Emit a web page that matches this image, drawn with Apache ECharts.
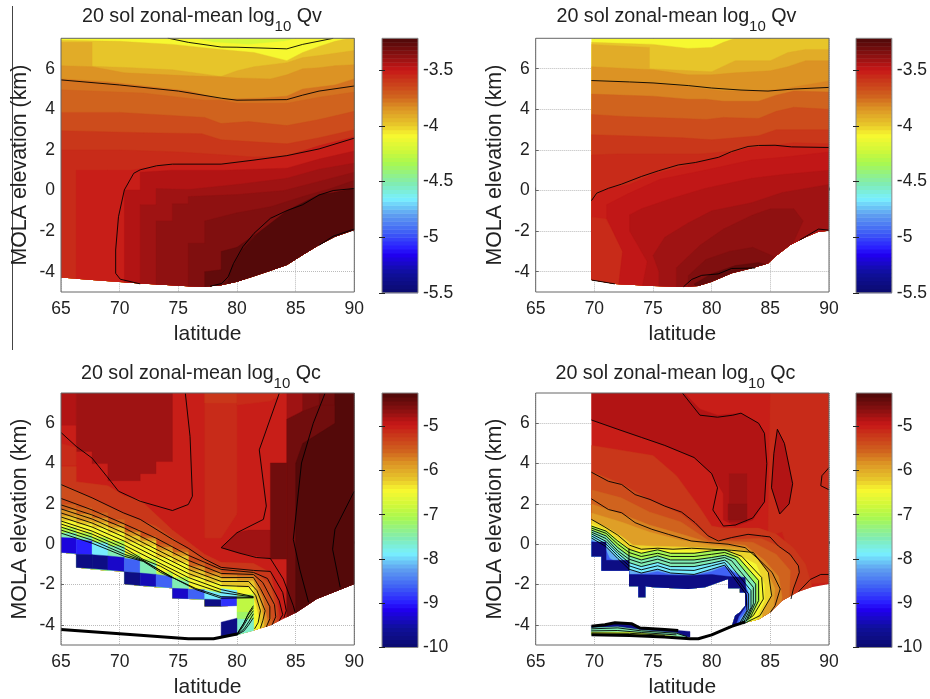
<!DOCTYPE html>
<html><head><meta charset="utf-8">
<script src="https://cdn.jsdelivr.net/npm/echarts@6/dist/echarts.min.js"></script>
<style>html,body{margin:0;padding:0;background:#fff}#c{width:930px;height:699px}</style>
</head><body><div id="c"></div>
<script>
const latTicks=[65,70,75,80,85,90];
const elevTicks=[-4,-2,0,2,4,6];
const qvTicks=[-3.5,-4,-4.5,-5,-5.5];
const qcTicks=[-5,-6,-7,-8,-9,-10];
const qvRange=[-5.5,-3.21];
const qcRange=[-10,-4.25];
const colorStops=[[0,'#0b0b6e'],[.08,'#10109c'],[.15,'#2000f0'],[.18,'#2a20ff'],[.24,'#3f60f5'],[.31,'#60a0f0'],[.37,'#78f0ff'],[.43,'#80ecb4'],[.51,'#a8f850'],[.56,'#d0f83a'],[.62,'#f8f830'],[.66,'#e8c82a'],[.7,'#e0a828'],[.73,'#dc9024'],[.77,'#d0661e'],[.81,'#cc481c'],[.84,'#c8341a'],[.875,'#c81818'],[.9,'#b01414'],[.92,'#981212'],[.95,'#7c0f0f'],[1,'#4c0808']];

// ---------- top-left: Qv ----------
const tlField=[[65,7.5],[90,7.5],[90,-1.94],[88.35,-2.28],[87,-2.69],[85.6,-3.18],[84.25,-3.67],[82.85,-3.95],[81.45,-4.22],[80,-4.5],[78.65,-4.67],[77.25,-4.74],[75.85,-4.72],[71.75,-4.58],[67.65,-4.41],[65,-4.28]];
const tlBands=[
[-4.2,[[65,7.7],[90,7.7]]],
[-4.08,[[65,7.6],[76,7.55],[78,7.3],[81,7.2],[84,7.35],[86,7.6],[90,7.6]]],
[-3.98,[[65,7.4],[70,7.35],[74.5,7.2],[78.65,6.95],[81.45,6.8],[84.25,6.4],[85.6,6.8],[87,7.1],[88.35,7.35],[90,7.55]]],
[-3.92,[[65,7.3],[67.65,7.3],[67.65,6.12],[71,6.05],[74.5,5.95],[78.65,5.62],[80,5.9],[81.45,6.1],[84.25,6.3],[85.6,6.55],[87,6.65],[90,6.9]]],
[-3.85,[[65,6.15],[67.65,6.1],[70.4,5.8],[75.85,5.65],[78.65,5.6],[80,5.55],[82.85,5.5],[84.25,5.7],[85.6,6.0],[87,6.05],[88.35,6.15],[90,6.2]]],
[-3.78,[[65,5.5],[69,5.35],[75.85,4.9],[78.65,4.5],[82,4.55],[84.25,4.65],[85.6,5.0],[88.35,5.2],[90,5.5]]],
[-3.72,[[65,4.96],[72,4.8],[77.25,4.45],[78.65,4.45],[80,4.3],[84.25,4.3],[87,4.6],[90,4.85]]],
[-3.66,[[65,3.85],[70,3.85],[77.25,3.6],[78.65,3.3],[81,3.4],[84.25,3.2],[87,3.5],[90,3.9]]],
[-3.6,[[65,2.95],[72,2.85],[77,2.8],[78.65,2.5],[84.25,2.3],[87,2.6],[90,3.0]]],
[-3.54,[[65,2.0],[70,2.0],[75,1.9],[79,1.75],[81.4,1.65],[84.25,1.7],[87,2.2],[90,2.6]]],
[-3.5,[[66.3,-5],[66.3,1.0],[69,1.0],[71,1.0],[72,1.1],[75,1.3],[79,1.3],[81.45,1.5],[84.25,1.7],[87,2.2],[90,2.65]]],
[-3.46,[[70.4,-5],[70.4,0.03],[71.75,0.03],[71.75,.9],[74.5,1.0],[79,1.0],[81.45,1.05],[84.25,1.1],[87,1.55],[90,1.95]]],
[-3.42,[[71.75,-5],[71.75,-.7],[73.1,-.7],[73.1,.1],[75.85,.05],[80,.3],[84.25,.6],[87,1.05],[90,1.35]]],
[-3.38,[[73.1,-5],[73.1,-1.5],[74.5,-1.5],[74.5,-.65],[75.85,-.65],[75.85,-.3],[80,-.2],[84,0],[87,.45],[90,.9]]],
[-3.33,[[75.85,-5],[75.85,-2.6],[77.25,-2.6],[77.25,-1.5],[80,-1.1],[82.85,-.8],[85.6,-.3],[88,.1],[90,.5]]],
[-3.28,[[77.25,-5],[77.25,-4.0],[78.65,-3.9],[78.65,-3.0],[80,-2.8],[81.45,-2.2],[84.25,-1.3],[87,-.4],[88.35,-.1],[90,.1]]],
[-3.24,[[79,-5],[79.5,-3.9],[80.5,-2.9],[82,-2.0],[84.25,-1.0],[87,-.2],[88.35,-.1],[90,.1]]]
];
const tlContours=[
[[74.1,7.51],[75.85,7.3],[78.65,7.07],[80,7.06],[84.25,6.98],[85.6,7.2],[88.2,7.5]],
[[65,5.45],[70,5.2],[75,4.9],[78.65,4.55],[80,4.45],[84.25,4.48],[85.6,4.7],[87,4.9],[90,5.15]],
[[90,2.58],[87,2.05],[84.25,1.72],[81.45,1.5],[78.65,1.3],[74.5,1.3],[73.15,1.22],[71.75,1.02],[71.2,.85],[70.4,.03],[69.9,-1.29],[69.66,-2.93],[69.66,-4.08],[70.05,-4.37],[71.75,-4.6]],
[[90,.1],[88.2,0],[87,-.22],[85.6,-.7],[84.25,-.99],[82.85,-1.37],[81.45,-2.11],[80.5,-2.77],[79.7,-3.6],[79.25,-4.25],[78.7,-4.58],[77.7,-4.72]],
[[90,-1.9],[88.2,-2.25],[87,-2.7]]
];

// ---------- top-right: Qv ----------
const trField=[[69.75,7.5],[90,7.5],[90,-1.98],[89.1,-2.03],[88,-2.3],[86.7,-2.68],[85.4,-3.26],[84.8,-3.59],[83.4,-3.83],[81.7,-4.08],[80,-4.5],[78.86,-4.7],[77.44,-4.74],[75.03,-4.7],[71.76,-4.6],[69.75,-4.41]];
const trBands=[
[-4.08,[[65,7.7],[90,7.7]]],
[-3.98,[[69.75,7.3],[75,7.2],[78,7.0],[80,7.05],[81,7.3],[82,7.5],[85,7.55],[88,7.6],[90,7.6]]],
[-3.92,[[69.75,7.2],[74.7,7.05],[74.7,6.0],[80,5.85],[82,6.4],[85,6.4],[86.5,6.8],[88,6.95],[90,6.95]]],
[-3.85,[[69.75,6.1],[75,5.95],[78,5.7],[80,5.7],[82,5.8],[85,5.9],[86.5,6.1],[88,6.4],[90,6.4]]],
[-3.79,[[69.75,5.4],[75,5.3],[78,5.1],[81,4.9],[84,4.9],[86,5.0],[88,5.2],[90,5.4]]],
[-3.72,[[69.75,4.75],[75,4.65],[78,4.5],[79.5,4.5],[81,4.4],[84,4.4],[85.5,4.7],[87,4.9],[90,4.85]]],
[-3.66,[[69.75,3.75],[72.5,3.65],[77.5,3.55],[79.5,3.5],[81,3.6],[84,3.55],[85.5,3.9],[87,4.1],[90,4.0]]],
[-3.6,[[69.75,2.75],[72.5,2.7],[77.5,2.6],[80,2.5],[84,2.7],[85.5,3.0],[90,3.0]]],
[-3.55,[[69.75,1.75],[72,1.8],[76,1.8],[79,1.8],[83,2.0],[85,2.2],[87,2.35],[90,2.3]]],
[-3.5,[[69.75,-.5],[70.5,-.1],[71.2,.1],[73,.3],[75,.8],[77,1.1],[79,1.4],[81,1.7],[83,2.1],[85,2.2],[90,2.1]]],
[-3.54,[[69.75,-1.3],[71,-1.4],[72,-2.5],[73.5,-4.0],[74.5,-5]]],
[-3.47,[[72,-5],[72.4,-3],[71.05,-1.35],[71.05,-.7],[72.9,-.15],[75.6,.55],[79.4,1.0],[83.4,1.5],[86.25,1.65],[90,1.9]]],
[-3.43,[[74,-5],[74.5,-3.5],[73,-2],[73,-1.2],[74,-.9],[76.5,-.4],[79.4,.1],[83.4,.6],[86.25,.8],[90,1.0]]],
[-3.39,[[75.5,-5],[75.5,-4],[75,-3.2],[76,-2.3],[78,-1.6],[80,-1.0],[83.4,-.6],[86,-.1],[90,.3]]],
[-3.37,[[77,-5],[77,-3.8],[79,-2.7],[81,-1.9],[83.5,-1.2],[85,-.9],[87,-.9],[87.8,-1.5],[87,-2.5],[86,-3.5],[85.5,-5]]],
[-3.33,[[78,-5],[78,-4.2],[79.5,-3.4],[81.5,-3.0],[83.5,-2.8],[85.5,-3.3],[85.6,-5]]],
[-3.27,[[79,-5],[78.5,-4.6],[80,-4.1],[82,-3.7],[84,-3.55],[85,-3.7],[85,-5]]]
];
const trContours=[
[[69.75,5.42],[73,5.35],[75,5.3],[78,5.17],[80,5.05],[82.5,4.95],[84.8,4.9],[87,5.0],[90,5.08]],
[[69.75,-.5],[70.2,-.13],[71.2,.11],[72.3,.31],[74,.69],[75.45,.97],[77.15,1.26],[78.6,1.38],[80.6,1.64],[81.7,1.92],[83.1,2.17],[84,2.22],[85.4,2.23],[86.8,2.15],[90,2.12]],
[[69.75,-4.41],[71.75,-4.6]],
[[77.6,-4.74],[78.3,-4.38],[79.15,-4.18],[80.55,-4.11],[81.7,-3.84],[83.7,-3.82]],
[[87.5,-2.44],[89.1,-1.9],[90,-1.95]]
];

// ---------- bottom-left: Qc ----------
const blEdges=[65,66.3,67.65,69,70.4,71.75,73.1,74.5,75.85,77.25,78.65,80,81.4];
function stair(heights,tail){const out=[];heights.forEach((h,i)=>{out.push([blEdges[i],h],[blEdges[i+1],h]);});return out.concat(tail);}
const blField=[[65,7.5],[90,7.5],[90,-1.98],[88.2,-2.4],[86.8,-2.72],[85.1,-3.38],[84.25,-3.62],[82.8,-4.03],[81.4,-4.28],[80,-4.5],[80,-3.05],[78.65,-3.08],[77.25,-3.08],[77.25,-2.75],[74.5,-2.68],[74.5,-2.19],[73.1,-2.14],[71.75,-2.06],[70.4,-1.98],[70.4,-1.35],[69,-1.32],[67.65,-1.24],[66.3,-1.15],[66.3,-.5],[65,-.41]];
const blPatches=[
[-5.0,[[65,7.6],[90,7.6],[90,-5],[65,-5]]],
[-5.08,[[77.25,7.6],[80,7.6],[80,1.5],[78.65,.3],[77.25,.3]]],
[-5.2,[[77.25,7.6],[80,7.6],[80,7.0],[77.25,7.0]]],
[-5.08,[[80,7.6],[84.25,7.6],[82.85,7.1],[80,6.9]]],
[-4.85,[[65,7.6],[66.3,7.6],[66.3,5.9],[65,5.9]]],
[-4.78,[[66.3,7.6],[74.5,7.6],[74.5,4.1],[73.1,4.1],[73.1,3.5],[71.75,3.5],[71.75,3.15],[69,3.15],[69,4],[67.65,4],[67.65,4.6],[66.3,4.6]]],
[-5.1,[[65,5.0],[66.3,4.8],[66.3,3.9],[65,3.9]]],
[-4.72,[[78.65,-.17],[80,.57],[81,.7],[82.85,.7],[82.85,-.71],[80.25,-.45]]],
[-4.72,[[84.25,7.6],[90,7.6],[90,-5],[84.25,-5]]],
[-4.6,[[85.6,7.6],[90,7.6],[90,-5],[85.6,-5]]],
[-4.5,[[87,7.6],[90,7.6],[90,-5],[87,-5]]],
[-4.38,[[88.35,7.6],[90,7.6],[90,-5],[88.35,-5]]],
[-4.5,[[84.25,6.2],[85.6,6.6],[87,6.9],[90,6.9],[90,-5],[84.25,-5]]],
[-4.33,[[85,4],[85.6,5.0],[87,5.5],[88.35,6],[88.35,7.6],[90,7.6],[90,-5],[85,-5]]],
[-4.5,[[82.85,4.03],[84.25,4.03],[84.25,-.74],[82.85,-.74]]]
];
const blBands=[
[-5.17,[[65,3.86],[66.3,3.86],[66.3,3.1],[69,2.9],[70.4,2.4],[71.75,2.2],[74.5,.7],[77.25,-.5],[78.65,-.9],[81.4,-.95],[82.85,-1.4],[83.5,-3],[83.9,-5]]],
[-5.4,[[65,3.0],[67.65,2.3],[70.4,1.5],[73.1,.9],[75.85,-.25],[78.65,-1.2],[81.4,-1.3],[82.85,-2],[83.4,-3.3],[83.4,-5]]],
[-5.57,stair([1.97,1.81,1.56,1.23,.74,.41,0,-.25,-.91,-1.2,-1.4,-1.4],[[82.5,-2.6],[83,-3.8],[83,-5]])],
[-5.8,stair([1.7,1.5,1.3,1.0,.6,.3,-.15,-.4,-1.1,-1.4,-1.55,-1.6],[[82.2,-2.7],[82.6,-3.8],[82.6,-5]])],
[-6.2,stair([1.39,1.15,1.07,.82,.41,.16,-.33,-.58,-1.32,-1.6,-1.73,-1.81],[[82,-2.9],[82.3,-3.8],[82.3,-5]])],
[-6.43,stair([1.15,.98,.82,.57,.08,-.09,-.66,-.91,-1.65,-1.9,-2.06,-2.14],[[81.4,-2.65],[81.6,-3],[82,-4],[82,-5]])],
[-7.0,stair([.82,.57,.33,.16,-.5,-.74,-1.4,-1.65,-2.22,-2.3,-2.47,-2.5],[[81.4,-2.6],[81.4,-5]])],
[-7.5,stair([.55,.35,.1,-.1,-.7,-.95,-1.6,-1.85,-2.3,-2.5,-2.55,-2.6],[[81.4,-5]])]
];
const blCells=[
[65,66.3,.33,.3,-.41,-.46,-9.2],[66.3,67.65,.24,.15,-.5,-.52,-8.97],[67.65,69,.08,0,-.55,-.6,-7.87],[69,70.4,-.09,-.2,-.6,-.7,-7.5],
[66.3,67.65,-.5,-.52,-1.15,-1.2,-9.8],[67.65,69,-.52,-.58,-1.2,-1.27,-9.8],[69,70.4,-.58,-.66,-1.27,-1.35,-9.3],[70.4,71.75,-.7,-.8,-1.35,-1.43,-8.6],[71.75,73.1,-.82,-1.0,-1.43,-1.5,-7.5],
[70.4,71.75,-1.37,-1.43,-1.98,-2.05,-9.8],[71.75,73.1,-1.43,-1.5,-2.05,-2.1,-9.4],[73.1,74.5,-1.5,-1.6,-2.1,-2.17,-8.6],[74.5,75.85,-1.65,-1.9,-2.19,-2.22,-7.5],
[74.5,75.85,-2.19,-2.22,-2.68,-2.7,-9.3],[75.85,77.25,-2.22,-2.26,-2.7,-2.73,-8.6],[77.25,78.65,-2.26,-2.45,-2.73,-2.75,-7.9],
[77.25,78.65,-2.73,-2.75,-3.08,-3.08,-9.8],[78.65,80,-2.2,-2.3,-2.63,-2.62,-7.9],[78.65,80,-2.63,-2.62,-3.08,-3.05,-8.9],
[80,81.4,-2.63,-2.63,-3.38,-3.38,-6.9],[80,81.4,-3.38,-3.38,-3.72,-3.72,-7.2],[80,81.4,-3.72,-3.72,-4.5,-4.28,-7.6],
[78.65,80,-3.87,-3.67,-4.6,-4.5,-9.8]
];
const blContours=[
[[65,5.54],[66.3,4.85],[67.65,4.27],[68.9,3.37],[69.9,2.63],[71.75,2.13],[74.5,1.67],[75.85,1.97],[76.2,2.38],[76,5.34],[75.6,7.48]],
[[83.6,7.48],[81.9,4.68],[82.5,1.89],[82.25,1.23],[80,.57],[78.65,-.17],[80.25,-.45],[81.65,-.66],[82.85,-.71],[83.95,-1.73],[84.8,-3.05],[84.95,-3.37]],
[[87.5,7.48],[86.5,6],[85.5,4.03],[84.8,.24],[85.35,-1.24],[86.1,-2.88]],
[[90,2.63],[88.35,.74],[88.15,-.25],[88.8,-2.14]],
[[65,2.96],[67.65,2.3],[70.3,1.56],[71.75,1.23],[74.5,.24],[75.85,-.2],[77.25,-.74],[78.65,-1.15],[81.4,-1.3],[82.85,-1.35],[83.9,-2.4],[84.2,-3.3],[84,-3.65]],
[[65,2.27],[67.65,1.7],[70.4,1.0],[73.1,.3],[75.85,-.55],[77.25,-.9],[78.65,-1.25],[81.4,-1.4],[82.6,-1.7],[83.6,-2.8],[83.9,-3.5],[83.6,-3.8]],
[[65,1.95],[67.65,1.45],[70.4,.8],[73.1,0],[75.85,-.8],[78.65,-1.45],[81.4,-1.5],[82.2,-1.9],[83.2,-3],[83.3,-3.6],[83,-4]],
[[65,1.75],[67.65,1.25],[70.4,.55],[73.1,-.25],[75.85,-1.05],[78.65,-1.65],[81.4,-1.65],[82,-2.2],[82.8,-3.1],[82.8,-3.7],[82.5,-4.1]],
[[65,1.55],[67.65,1.05],[70.4,.35],[73.1,-.45],[75.85,-1.25],[78.65,-1.85],[81,-1.85],[81.7,-2.3],[82.4,-3.3],[82.2,-3.8],[82,-4.15]],
[[65,1.35],[67.65,.85],[70.4,.15],[73.1,-.65],[75.85,-1.45],[78.65,-2.05],[81,-2.1],[81.6,-2.55],[82,-3.3],[81.8,-3.9],[81.5,-4.2]],
[[65,1.15],[67.65,.65],[70.4,-.05],[73.1,-.85],[75.85,-1.65],[78.65,-2.25],[81.4,-2.6]],
[[65,1.0],[67.65,.5],[70.4,-.2],[72,-.75],[73.5,-1.1],[75.85,-1.85],[78.65,-2.4],[81.4,-2.62]],
[[65,.85],[67.65,.35],[70.4,-.35],[72,-.8],[74.5,-1.65],[76.5,-2.2],[78.65,-2.6],[81.4,-2.64]],
[[65,.7],[67.65,.2],[70.4,-.5],[72,-.82],[74.5,-1.65],[76.5,-2.25],[78.65,-2.68],[81.4,-2.66]],
[[65,.55],[67.65,.05],[70.4,-.6],[72,-.85],[73.5,-1.4],[74.5,-1.68]],
[[81.4,-3.05],[81,-3.4],[80.6,-3.9],[80,-4.45]],[[81.4,-3.15],[80.9,-3.55],[80.5,-4],[80,-4.47]],[[81.4,-3.3],[80.9,-3.7],[80.5,-4.1],[80,-4.48]],[[81.4,-3.45],[81,-3.85],[80.6,-4.2],[80,-4.5]],[[81.4,-3.65],[81,-4],[80.6,-4.3],[80,-4.5]]
];
const blThick=[[[65,-4.23],[70,-4.44],[75.85,-4.69],[78,-4.69],[80,-4.45]]];

// ---------- bottom-right: Qc ----------
const brField=[[69.75,7.5],[90,7.5],[90,-1.98],[88.5,-2.14],[87.4,-2.36],[86,-2.8],[85,-3.38],[84,-3.74],[82.85,-3.9],[81.7,-4.1],[82,-3.54],[82.4,-3.38],[82.85,-3.05],[82.85,-2.39],[82.4,-2.39],[82.4,-2.19],[81.4,-2.19],[81.4,-1.73],[79.43,-2.14],[78,-2.22],[75,-2.14],[74.35,-2.09],[74.35,-2.63],[73.75,-2.63],[73.75,-2.09],[72.95,-2.09],[72.95,-1.32],[70.6,-1.32],[70.6,-.61],[69.75,-.61]];
const brPatches=[
[-5.0,[[65,7.6],[90,7.6],[90,-5],[65,-5]]],
[-5.12,[[85,7.6],[90,7.6],[90,-1.9],[87.5,-2],[86,.6],[84.8,.4]]],
[-4.8,[[69.75,7.6],[77.5,7.6],[79,6.7],[80.5,6.4],[82.5,6.5],[84,6],[84.5,5.5],[84.7,4],[84.5,2.1],[83.5,1.2],[82,.9],[81,1.2],[81,2.5],[80,3.5],[78.5,4.3],[76,4.9],[74,5.3],[72,5.7],[69.75,6.16]]],
[-4.74,[[81.5,3.5],[83,3.5],[83,1.1],[81.5,1.1]]],
[-4.62,[[81.4,2],[83,2],[83,1.2],[81.4,1.2]]],
[-4.85,[[85.6,5.7],[86.2,5],[86.9,3],[86.6,2],[85.8,1.5],[85.1,2.8],[85.3,4.5]]]
];
const brBands=[
[-5.17,[[69.75,4.9],[75,4.4],[77,3.4],[79,1.8],[80,.9],[81,.8],[84,.8],[85.5,.5],[87,-.2],[88,-1],[88.5,-2],[88.5,-5]]],
[-5.4,[[69.75,3.6],[72.3,3.0],[74.7,2.2],[77.4,1.5],[79.7,.4],[80.6,.2],[84.2,.3],[85.7,-.1],[87,-.7],[87.5,-1.2],[87,-2.3],[87,-5]]],
[-5.57,[[69.75,2.7],[72.3,2.3],[74.7,1.6],[77.4,1.1],[79.7,.2],[83.5,.1],[85.5,-.5],[86.7,-1.3],[86.5,-5]]],
[-5.75,[[69.75,2.0],[72.3,1.5],[74.7,.95],[77.4,.5],[79.7,.1],[82.85,-.05],[84.5,-.8],[85.7,-1.6],[86,-2.6],[85.6,-5]]],
[-5.9,[[69.75,1.55],[72.3,1.1],[74.7,.6],[77.4,.2],[80,-.05],[83,-.2],[84.6,-1.2],[85.4,-2.2],[85,-5]]],
[-6.25,[[69.75,1.2],[71,.85],[72.3,.4],[73.3,-.05],[75,-.1],[78.5,-.15],[81.5,-.25],[83.4,-.4],[84.8,-1.4],[85.1,-2.5],[84.3,-3.4],[84.3,-5]]],
[-6.43,[[69.75,1.0],[71,.7],[72.3,.1],[73,-.3],[76,-.25],[80,-.35],[82,-.45],[83.8,-1],[84.5,-2],[84.5,-2.8],[83.8,-3.7],[83.8,-5]]],
[-7.07,[[69.75,.9],[71,.65],[72,.16],[72.95,-.25],[74,-.45],[75.4,-.28],[76.5,-.45],[78.5,-.45],[80,-.33],[81.1,-.28],[82.3,-.66],[84,-1.8],[84.1,-2.8],[83.4,-3.6],[82.7,-5]]],
[-7.5,[[69.75,.7],[71,.41],[72,-.17],[72.95,-.58],[74,-.78],[75.4,-.58],[76.5,-.78],[78.5,-.78],[80,-.66],[81.1,-.55],[82,-.74],[83.75,-1.98],[83.75,-2.9],[83.1,-3.7],[82.5,-5]]],
[-7.87,[[69.75,.5],[71,.14],[72,-.45],[72.95,-.91],[74,-1.11],[75.4,-.91],[76.5,-1.11],[78.5,-1.11],[80,-.94],[81.1,-.79],[83.3,-2.1],[83.35,-3.1],[82.8,-3.8],[82.5,-5]]],
[-8.2,[[69.75,.3],[71,-.12],[72,-.71],[72.95,-1.24],[74,-1.43],[75.4,-1.24],[76.5,-1.43],[78.5,-1.5],[80,-1.24],[81.1,-1.04],[82.3,-1.5],[83.2,-2.4],[83.2,-3.1],[82.6,-3.75],[82.3,-5]]],
[-8.6,[[69.75,.2],[71,-.3],[71.3,-.7],[72.95,-1.3],[73,-1.5],[74.5,-1.45],[75.4,-1.35],[76.5,-1.5],[78.5,-1.55],[80,-1.35],[81.1,-1.1],[82.5,-1.6],[83.05,-2.3],[83.05,-3.2],[82.4,-3.7],[82,-5]]],
[-9.8,[[69.75,.11],[71,.11],[71,-.8],[72.95,-.8],[72.95,-1.5],[78,-1.55],[80,-1.5],[81.4,-1.6],[82.85,-1.65],[82.95,-2.4],[83,-3],[82.3,-3.6],[81.5,-5]]]
];
const brFree=[
[-9.8,[[69.75,-4.07],[70.9,-4],[71.76,-3.9],[73.2,-3.95],[73.9,-4.16],[76,-4.23],[77.15,-4.28],[78.15,-4.33],[78.15,-4.6],[76,-4.55],[73,-4.5],[69.75,-4.49]]],
[-7.5,[[69.75,-4.15],[72,-4.1],[74,-4.25],[77,-4.4],[77.9,-4.6],[76,-4.55],[73,-4.5],[69.75,-4.49]]],
[-6.7,[[69.75,-4.35],[73,-4.35],[76,-4.5],[78,-4.66],[73,-4.55],[69.75,-4.49]]]
];
const brContours=[
[[69.75,6.16],[72,5.7],[74,5.3],[76,4.9],[78.5,4.3],[80,3.5],[80.5,2.8],[80.1,1.7],[81,.9],[82,.95],[83.5,1.3],[84.5,2.1],[84.7,4],[84.5,5.5],[84,6],[82.5,6.5],[81.8,6.4],[80.5,6.3],[79,6.4],[77.5,7.5]],
[[85.6,5.7],[86.2,5],[86.9,3],[86.6,2],[85.8,1.5],[85.1,2.8],[85.3,4.5],[85.6,5.7]],
[[90,3.8],[89.4,3.4],[89.3,2.9],[90,2.7]],
[[69.75,3.57],[71.2,3.12],[72.33,2.96],[73.47,2.46],[74.74,2.22],[76,1.89],[77.44,1.59],[78.58,1.07],[79.7,.41],[80.57,.16],[81.7,.33],[83.1,.49],[84.26,.41],[84.97,.36],[85.68,-.09],[86.68,-.5],[87.39,-1.07],[87.47,-1.4],[86.96,-2.22],[86.76,-2.72]],
[[69.75,2.25],[71.2,1.72],[72.33,1.56],[73.47,1.07],[74.9,.74],[76.3,.49],[78.25,.16],[79.7,.08],[81.4,0],[82.85,-.17],[84,-.74],[85.15,-1.4],[85.84,-2.22],[85.4,-3.05],[85,-3.38]],
[[69.75,1.23],[70.9,.85],[72,.45],[73,-.05],[74,-.25],[75.4,-.2],[76.7,-.25],[78.3,-.2],[80,-.25],[81.7,-.3],[83.55,-.41],[84.83,-1.4],[85.11,-2.55],[84.12,-3.54],[82.7,-3.95]],
[[69.75,.9],[71,.65],[72,.16],[72.95,-.25],[74,-.45],[75.4,-.28],[76.5,-.45],[78.5,-.45],[80,-.33],[81.1,-.28],[82.56,-.6],[84.26,-1.65],[84.4,-2.72],[83.55,-3.54],[82.56,-3.95]],
[[69.75,.8],[71,.54],[72,0],[72.95,-.41],[74,-.61],[75.4,-.45],[76.5,-.61],[78.5,-.61],[80,-.5],[81.1,-.41],[82.27,-.66],[84,-1.8],[84,-2.8],[83.3,-3.62]],
[[69.75,.7],[71,.41],[72,-.17],[72.95,-.58],[74,-.78],[75.4,-.58],[76.5,-.78],[78.5,-.78],[80,-.66],[81.1,-.55],[82,-.74],[83.75,-1.98],[83.75,-2.88],[83.1,-3.7]],
[[69.75,.6],[71,.28],[72,-.33],[72.95,-.74],[74,-.94],[75.4,-.74],[76.5,-.94],[78.5,-.94],[80,-.78],[81.1,-.66],[81.7,-.82],[83.55,-2.14],[83.55,-2.96],[82.95,-3.79]],
[[69.75,.51],[71,.14],[72,-.45],[72.95,-.91],[74,-1.11],[75.4,-.91],[76.5,-1.11],[78.5,-1.11],[80,-.94],[81.1,-.79],[81.4,-.9],[83.35,-2.3],[83.35,-3.13],[82.75,-3.84]],
[[69.75,.41],[71,.01],[72,-.58],[72.95,-1.07],[74,-1.27],[75.4,-1.07],[76.5,-1.27],[78.5,-1.3],[80,-1.07],[81.1,-.91],[83.15,-2.47],[83.15,-3.21],[82.55,-3.9]],
[[69.75,.31],[71,-.12],[72,-.71],[72.95,-1.24],[74,-1.43],[75.4,-1.24],[76.5,-1.43],[78.5,-1.5],[80,-1.24],[81.1,-1.04],[82.95,-2.5],[83,-3.3],[82.4,-3.9]],
[[72.95,-.2],[72.95,-1.3]],
[[87.4,-2.36],[88.4,-1.75],[89.3,-1.5],[90,-1.5]]
];
const brThick=[
[[69.75,-4.07],[70.9,-4],[71.76,-3.9],[73.2,-3.95],[73.9,-4.16],[76,-4.23],[77.15,-4.28]],
[[69.75,-4.49],[73,-4.53],[76,-4.6],[78.15,-4.69],[78.86,-4.69],[80,-4.5],[81.7,-4.08],[82.85,-3.85]]
];
const brThin=[
[[69.75,-4.2],[72,-4.15],[74,-4.3],[77,-4.42],[77.9,-4.58]],
[[69.75,-4.3],[72,-4.28],[74,-4.38],[77,-4.5]],
[[69.75,-4.4],[73,-4.42],[76,-4.52]]
];

const panels=[
 {left:61,top:38.3,title:'Qv',range:qvRange,ticks:qvTicks,bar:382,titleLeft:82,titleTop:7,field:tlField,patches:[],bands:tlBands,cells:[],free:[],contours:tlContours,thick:[]},
 {left:535.7,top:38.3,title:'Qv',range:qvRange,ticks:qvTicks,bar:856,titleLeft:556.5,titleTop:7,field:trField,patches:[],bands:trBands,cells:[],free:[],contours:trContours,thick:[]},
 {left:61,top:393,title:'Qc',range:qcRange,ticks:qcTicks,bar:382,titleLeft:81,titleTop:364,field:blField,patches:blPatches,bands:blBands,cells:blCells,free:[],contours:blContours,thick:blThick},
 {left:535.7,top:393,title:'Qc',range:qcRange,ticks:qcTicks,bar:856,titleLeft:555.5,titleTop:364,field:brField,patches:brPatches,bands:brBands,cells:[],free:brFree,contours:brContours.concat(brThin),thick:brThick}
];

function colorOf(v,range){
 let f=(v-range[0])/(range[1]-range[0]);
 f=(Math.min(63,Math.max(0,Math.floor(f*64)))+.5)/64;
 let i=0; while(i<colorStops.length-2&&f>colorStops[i+1][0])i++;
 const a=colorStops[i],b=colorStops[i+1],t=Math.max(0,Math.min(1,(f-a[0])/(b[0]-a[0])));
 const h=c=>[1,3,5].map(k=>parseInt(c.substr(k,2),16));
 const A=h(a[1]),B=h(b[1]);
 return 'rgb('+A.map((x,k)=>Math.round(x+(B[k]-x)*t)).join(',')+')';
}
const TXT='#222',FONT='"Liberation Sans",Arial,sans-serif';
const grid=[],xAxis=[],yAxis=[],series=[],title=[];
panels.forEach(function(p){
 const g=grid.length, xi=xAxis.length, yi=yAxis.length;
 grid.push({left:p.left,top:p.top,width:293.3,height:253.7,show:true,z:10,backgroundColor:'transparent',borderColor:'#666',borderWidth:1});
 xAxis.push({type:'value',gridIndex:g,min:65,max:90,interval:5,name:'latitude',nameLocation:'middle',nameGap:32,
  nameTextStyle:{fontSize:21,color:TXT,fontFamily:FONT},
  axisLine:{show:false},axisTick:{show:true,inside:true,length:3,lineStyle:{color:'#666'}},
  axisLabel:{fontSize:17.5,color:TXT,fontFamily:FONT,margin:8,formatter:v=>String(v)},
  splitLine:{show:true,lineStyle:{type:'dotted',color:'#bbb',width:1}}});
 yAxis.push({type:'value',gridIndex:g,min:-5,max:7.5,name:'MOLA elevation (km)',nameLocation:'middle',nameRotate:90,nameGap:30,
  nameTextStyle:{fontSize:21.4,color:TXT,fontFamily:FONT},
  axisLine:{show:false},axisTick:{show:true,inside:true,length:3,customValues:elevTicks,lineStyle:{color:'#666'}},
  axisLabel:{fontSize:17.5,color:TXT,fontFamily:FONT,margin:6,customValues:elevTicks},
  splitLine:{show:true,lineStyle:{type:'dotted',color:'#bbb',width:1}}});
 const shapes=[];
 p.patches.forEach(b=>shapes.push({v:b[0],pts:b[1],clip:true}));
 p.bands.forEach(b=>{const s=b[1];shapes.push({v:b[0],pts:s.concat([[s[s.length-1][0],-5.2],[s[0][0],-5.2]]),clip:true});});
 p.cells.forEach(c=>shapes.push({v:c[6],pts:[[c[0],c[2]],[c[1],c[3]],[c[1],c[5]],[c[0],c[4]]],clip:false}));
 p.free.forEach(b=>shapes.push({v:b[0],pts:b[1],clip:false}));
 series.push({type:'custom',xAxisIndex:xi,yAxisIndex:yi,silent:true,animation:false,clip:true,z:2,
  data:shapes.map((s,i)=>[65,0,i]),
  renderItem:function(params,api){
   const s=shapes[params.dataIndex];
   const cp=q=>api.coord(q);
   const el={type:'polygon',shape:{points:s.pts.map(cp)},style:{fill:colorOf(s.v,p.range),stroke:colorOf(s.v,p.range),lineWidth:.4}};
   if(s.clip)el.clipPath={type:'polygon',shape:{points:p.field.map(cp)}};
   return el;
  }});
 p.contours.forEach(c=>series.push({type:'line',xAxisIndex:xi,yAxisIndex:yi,data:c,showSymbol:false,silent:true,animation:false,z:4,lineStyle:{color:'#000',width:.9}}));
 p.thick.forEach(c=>series.push({type:'line',xAxisIndex:xi,yAxisIndex:yi,data:c,showSymbol:false,silent:true,animation:false,z:4,lineStyle:{color:'#000',width:3}}));
 title.push({left:p.titleLeft,top:p.titleTop,padding:0,text:'{a|20 sol zonal-mean log}{s|10}{a| '+p.title+'}',
  textStyle:{fontWeight:'normal',rich:{a:{fontSize:19.7,fontWeight:'normal',color:TXT,fontFamily:FONT,lineHeight:24,verticalAlign:'top'},s:{fontSize:15,fontWeight:'normal',color:TXT,fontFamily:FONT,lineHeight:24,padding:[12,0,0,0],verticalAlign:'top'}}}});
 // colour bar
 const b=grid.length, bx=xAxis.length, by=yAxis.length;
 grid.push({left:p.bar,top:p.top,width:36,height:254.5,show:true,z:10,backgroundColor:'transparent',borderColor:'#888',borderWidth:1});
 xAxis.push({type:'value',gridIndex:b,min:0,max:1,show:false});
 const axisBase={type:'value',gridIndex:b,min:p.range[0],max:p.range[1],z:11,axisLine:{show:false},splitLine:{show:false}};
 yAxis.push(Object.assign({},axisBase,{position:'right',axisTick:{show:true,inside:true,length:3,customValues:p.ticks,lineStyle:{color:'#222'}},
  axisLabel:{fontSize:17.5,color:TXT,fontFamily:FONT,margin:5,customValues:p.ticks,formatter:v=>String(v)}}));
 const by2=yAxis.length;
 yAxis.push(Object.assign({},axisBase,{position:'left',axisTick:{show:true,inside:true,length:3,customValues:p.ticks,lineStyle:{color:'#222'}},axisLabel:{show:false}}));
 const levels=[];for(let i=0;i<64;i++)levels.push(p.range[0]+(p.range[1]-p.range[0])*(i+.5)/64);
 const step=(p.range[1]-p.range[0])/64;
 series.push({type:'custom',xAxisIndex:bx,yAxisIndex:by,silent:true,animation:false,z:2,data:levels.map(v=>[0,v]),
  renderItem:function(params,api){
   const v=api.value(1),a=api.coord([0,v-step/2]),c=api.coord([1,v+step/2]);
   return {type:'rect',shape:{x:a[0],y:c[1],width:c[0]-a[0],height:a[1]-c[1]+.5},style:{fill:colorOf(v,p.range)}};
  }});
 series.push({type:'line',xAxisIndex:bx,yAxisIndex:by2,data:[],silent:true});
});
const chart=echarts.init(document.getElementById('c'),null,{renderer:'canvas'});
chart.setOption({animation:false,backgroundColor:'#fff',title,grid,xAxis,yAxis,series,tooltip:{show:false},
 graphic:[{type:'line',shape:{x1:12.5,y1:6,x2:12.5,y2:350},style:{stroke:'#444',lineWidth:1}}]});
</script></body></html>
